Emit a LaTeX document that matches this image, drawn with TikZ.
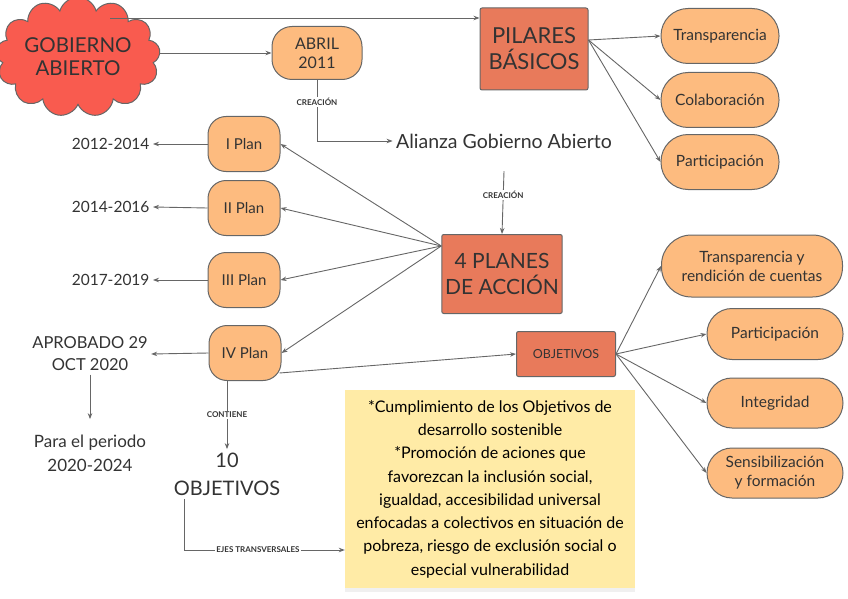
\documentclass[tikz,border=0pt]{standalone}
\usepackage{fontspec}
\setmainfont{Lato}
\usetikzlibrary{arrows.meta, positioning, calc, shapes.symbols, shadows}

\definecolor{rojonube}{HTML}{F95B4F}
\definecolor{naranja}{HTML}{FDBB7F}
\definecolor{coral}{HTML}{E87A5B}
\definecolor{amarillo}{HTML}{FFEBA6}
\definecolor{linea}{HTML}{666666}
\definecolor{texto}{HTML}{333333}

\begin{document}
\begin{tikzpicture}[x=1pt, y=-1pt, >={Stealth[length=6pt, width=4.5pt]},
  every node/.style={text=texto},
  flecha/.style={->, draw=linea, line width=0.9pt},
  nube/.style={cloud, cloud puffs=13, aspect=1.6, draw=linea, line width=1pt,
    fill=rojonube, inner sep=0pt, minimum width=137pt, minimum height=86pt,
    align=center, font=\fontsize{20.5}{23}\selectfont},
  caja/.style={rectangle, rounded corners=2pt, draw=linea, line width=1pt,
    fill=coral, align=center},
  pildora/.style={rectangle, rounded corners=#1, draw=linea, line width=1pt,
    fill=naranja, align=center},
  pildora/.default=18pt,
  etiq/.style={fill=white, inner sep=1pt, font=\fontsize{8}{9}\selectfont\bfseries},
  libre/.style={align=center}
]
\useasboundingbox (0,0) rectangle (848,599);

% nube y fecha
\node[nube] (gob) at (78,57) {GOBIERNO\\ABIERTO};
\node[pildora=20pt, minimum width=90pt, minimum height=53pt,
  font=\fontsize{16}{19}\selectfont] (abril) at (317,53) {ABRIL\\2011};

% pilares
\node[caja, minimum width=108pt, minimum height=82pt,
  font=\fontsize{22}{26}\selectfont] (pil) at (534,49) {PILARES\\BÁSICOS};
\node[pildora=27pt, minimum width=118pt, minimum height=55pt,
  font=\fontsize{15.5}{18}\selectfont] (tra) at (720,36) {Transparencia};
\node[pildora=27pt, minimum width=118pt, minimum height=55pt,
  font=\fontsize{15.5}{18}\selectfont] (col) at (720,100) {Colaboración};
\node[pildora=27pt, minimum width=118pt, minimum height=55pt,
  font=\fontsize{15.5}{18}\selectfont] (par) at (720,162) {Participación};

% alianza y planes
\node[libre, minimum height=60pt, font=\fontsize{19.5}{22}\selectfont] (ali) at (504,141) {Alianza Gobierno Abierto};
\node[caja, minimum width=109pt, minimum height=79pt,
  font=\fontsize{21}{26}\selectfont] (planes) at (502,274) {4 PLANES\\DE ACCIÓN};
\coordinate (pin) at ($(planes.north west)!0.15!(planes.south west)$);

\node[pildora, minimum width=72pt, minimum height=55pt, font=\fontsize{15}{18}\selectfont] (p1) at (244,144) {I Plan};
\node[pildora, minimum width=72pt, minimum height=55pt, font=\fontsize{15}{18}\selectfont] (p2) at (244,208) {II Plan};
\node[pildora, minimum width=72pt, minimum height=55pt, font=\fontsize{15}{18}\selectfont] (p3) at (244,280) {III Plan};
\node[pildora, minimum width=72pt, minimum height=55pt, font=\fontsize{15}{18}\selectfont] (p4) at (245,353) {IV Plan};

% fechas de los planes
\node[anchor=east, font=\fontsize{15.5}{18}\selectfont] (a1) at (153,144) {2012-2014};
\node[anchor=east, font=\fontsize{15.5}{18}\selectfont] (a2) at (153,207) {2014-2016};
\node[anchor=east, font=\fontsize{15.5}{18}\selectfont] (a3) at (153,280) {2017-2019};
\node[libre, font=\fontsize{16.5}{22}\selectfont] (apr) at (90,354) {APROBADO 29\\OCT 2020};
\node[libre, font=\fontsize{17}{24}\selectfont] (per) at (90,453) {Para el periodo\\2020-2024};
\node[libre, font=\fontsize{20}{28}\selectfont] (diez) at (227,474) {10\\OBJETIVOS};

% objetivos
\node[caja, minimum width=99pt, minimum height=45pt, font=\fontsize{12.5}{15}\selectfont] (obj) at (566,354) {OBJETIVOS};
\node[pildora=30pt, minimum width=181pt, minimum height=62pt, font=\fontsize{15.5}{19}\selectfont] (trc) at (752,266) {Transparencia y\\rendición de cuentas};
\node[pildora=25pt, minimum width=136pt, minimum height=51pt, font=\fontsize{15.5}{18}\selectfont] (par2) at (775,334) {Participación};
\node[pildora=25pt, minimum width=136pt, minimum height=50pt, font=\fontsize{15.5}{18}\selectfont] (int) at (775,403) {Integridad};
\node[pildora=25pt, minimum width=136pt, minimum height=50pt, font=\fontsize{15.5}{19}\selectfont] (sen) at (775,473) {Sensibilización\\y formación};

% ejes transversales
\node[rectangle, fill=amarillo, minimum width=290pt, minimum height=198pt, align=center,
  drop shadow={shadow xshift=0pt, shadow yshift=-4pt, opacity=0.12},
  text=black, font=\fontsize{16}{23.3}\selectfont] (amar) at (490,489)
  {*Cumplimiento de los Objetivos de\\desarrollo sostenible\\*Promoción de aciones que\\favorezcan la inclusión social,\\igualdad, accesibilidad universal\\enfocadas a colectivos en situación de\\pobreza, riesgo de exclusión social o\\especial vulnerabilidad};

% conectores
\coordinate (gt) at ($(gob.center)+(32,-39)$);
\draw[flecha] (gt) -- (gt -| pil.west);
\draw[flecha] (gob.east |- abril) -- (abril.west);
\draw[flecha] (abril.south) |- node[etiq, pos=0.18]{CREACIÓN} (ali.west);
\draw[flecha] (ali.south) -- node[etiq, pos=0.38]{CREACIÓN} (planes.north);

\coordinate (pout) at ($(pil.east)+(0,-9)$);
\foreach \n in {tra,col,par}
  \draw[flecha] (pout) -- (\n.west);

\foreach \n in {p1,p2,p3,p4}
  \draw[flecha] (pin) -- (\n.east);

\draw[flecha] (p1.west) -- (a1.east);
\draw[flecha] (p2.west) -- (a2.east);
\draw[flecha] (p3.west) -- (a3.east);
\draw[flecha] (p4.west) -- (apr.east);
\draw[flecha, shorten >=12pt] (apr.south) -- (per.north);
\draw[flecha] (p4.south -| diez.north) -- node[etiq]{CONTIENE} (diez.north);

\coordinate (p4b) at ($(p4.east)+(-2,20)$);
\draw[flecha] (p4b) -- (obj.west);
\foreach \n in {trc,par2,int,sen}
  \draw[flecha] (obj.east) -- (\n.west);

\coordinate (dz) at ($(diez.south)+(-43,0)$);
\coordinate (am) at ($(amar.west)+(0,61)$);
\draw[flecha] (dz) |- node[etiq, pos=0.73]{EJES TRANSVERSALES} (am);
\end{tikzpicture}
\end{document}
